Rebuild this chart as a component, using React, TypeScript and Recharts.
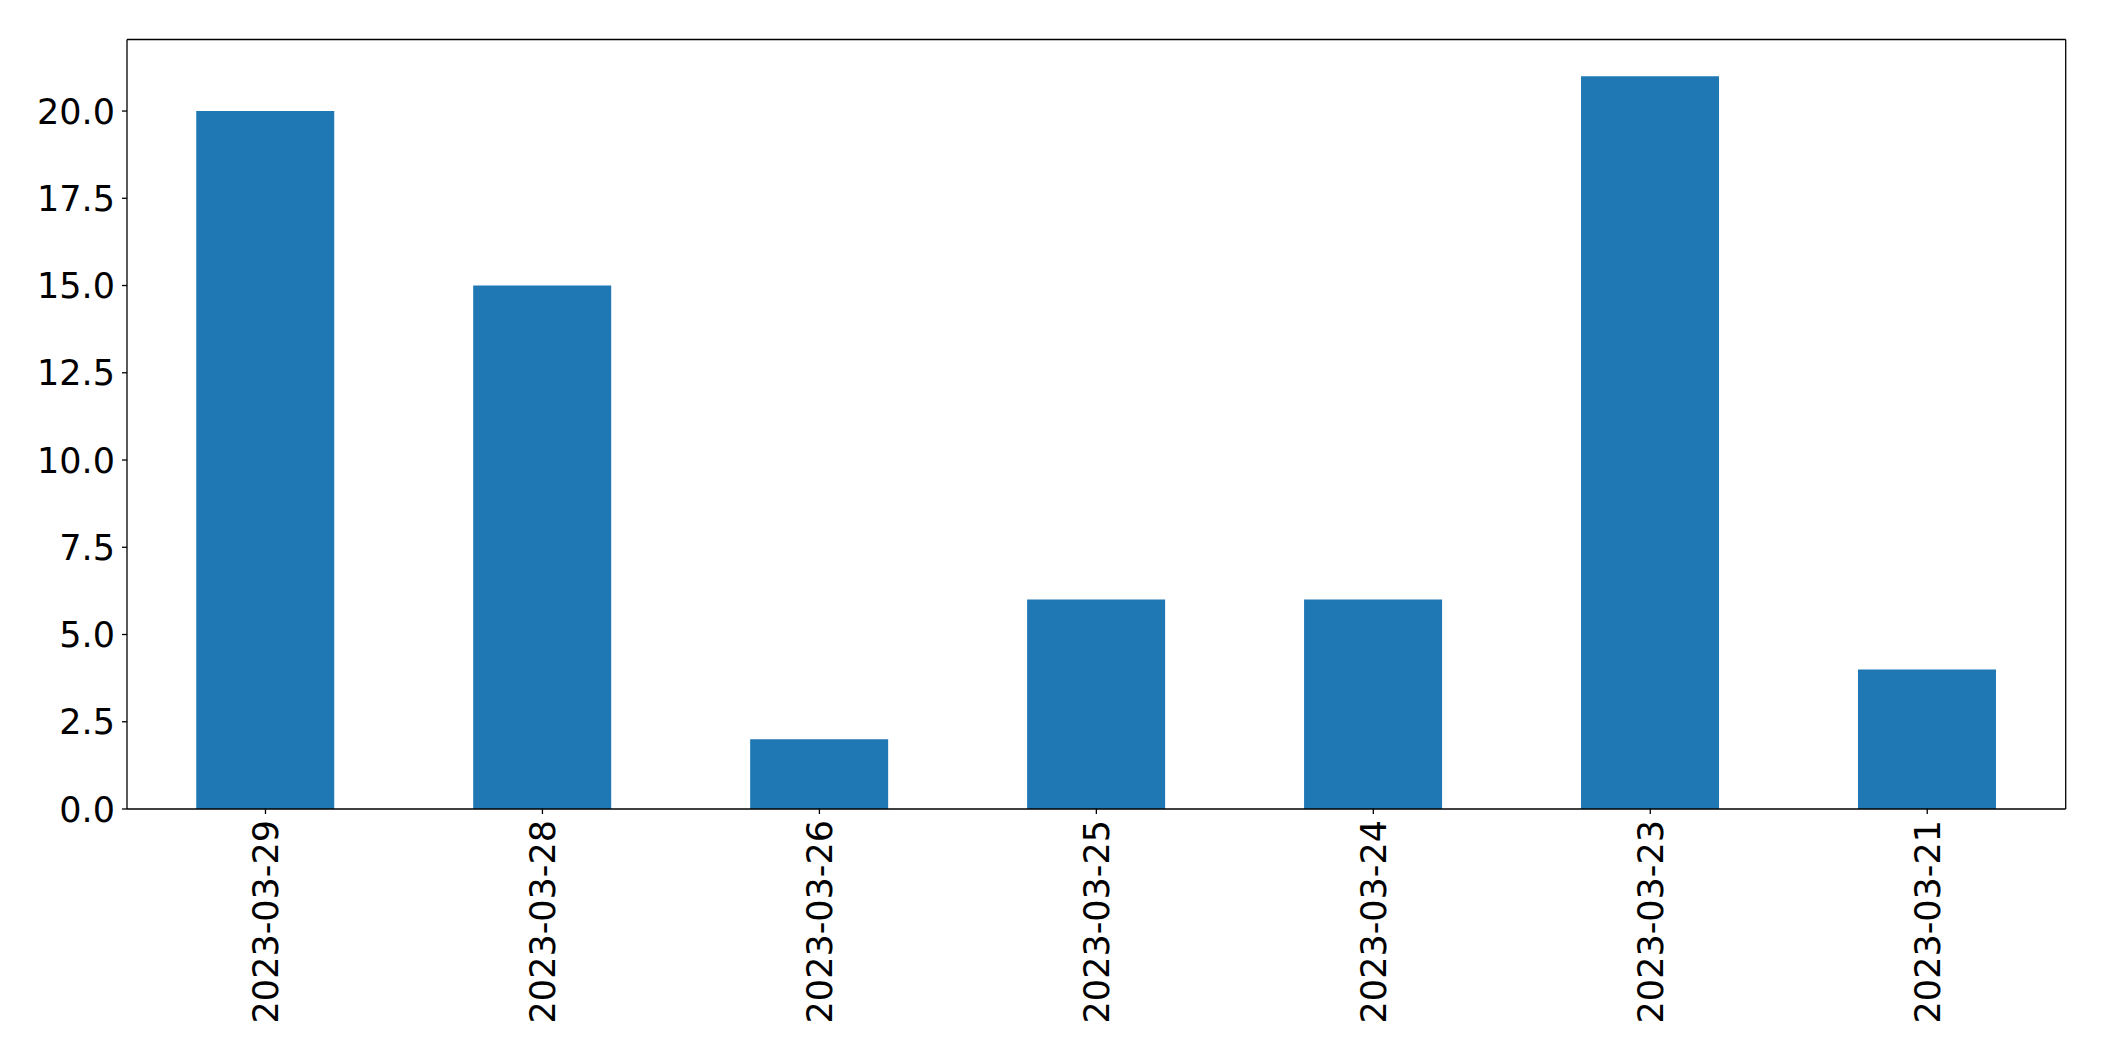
import React from 'react';
import { BarChart, Bar, XAxis, YAxis } from 'recharts';

const dates = ['2023-03-29', '2023-03-28', '2023-03-26', '2023-03-25', '2023-03-24', '2023-03-23', '2023-03-21'];
const counts = [20, 15, 2, 6, 6, 21, 4];
const yTicks = [0, 2.5, 5, 7.5, 10, 12.5, 15, 17.5, 20];

const data = dates.map((d, i) => ({ date: d, count: counts[i] }));

const FONT = '"DejaVu Sans", sans-serif';
const FS = 35;
const LW = 1.3;

const XTick = (props: any) => {
    const { x, y, payload } = props;
    return (
        <g transform={`translate(${x},${y})`}>
            <text
                transform="rotate(-90)"
                textAnchor="end"
                dy="0.36em"
                fill="#000"
                fontFamily={FONT}
                fontSize={FS}
            >
                {payload.value}
            </text>
        </g>
    );
};

const YTick = (props: any) => {
    const { x, y, payload } = props;
    return (
        <text
            x={x}
            y={y}
            textAnchor="end"
            dy="0.36em"
            fill="#000"
            fontFamily={FONT}
            fontSize={FS}
        >
            {Number(payload.value).toFixed(1)}
        </text>
    );
};

export default function App() {
    return (
        <div style={{ position: 'absolute', left: 0, top: 0, background: '#fff' }}>
            <BarChart
                width={2104}
                height={1061}
                data={data}
                margin={{ top: 38.5, right: 37.3, bottom: 0, left: 0 }}
                barCategoryGap="25%"
            >
                <XAxis
                    dataKey="date"
                    height={252}
                    tick={<XTick />}
                    tickSize={5}
                    tickMargin={6}
                    interval={0}
                    axisLine={{ stroke: '#000', strokeWidth: LW }}
                    tickLine={{ stroke: '#000', strokeWidth: LW }}
                />
                <XAxis
                    xAxisId="top"
                    dataKey="date"
                    orientation="top"
                    height={1}
                    tick={false}
                    tickLine={false}
                    axisLine={{ stroke: '#000', strokeWidth: LW }}
                />
                <YAxis
                    width={127}
                    domain={[0, 22.05]}
                    ticks={yTicks}
                    tick={<YTick />}
                    tickSize={5}
                    tickMargin={7}
                    interval={0}
                    axisLine={{ stroke: '#000', strokeWidth: LW }}
                    tickLine={{ stroke: '#000', strokeWidth: LW }}
                />
                <YAxis
                    yAxisId="right"
                    orientation="right"
                    width={1}
                    domain={[0, 22.05]}
                    tick={false}
                    tickLine={false}
                    axisLine={{ stroke: '#000', strokeWidth: LW }}
                />
                <Bar dataKey="count" fill="#1f77b4" isAnimationActive={false} />
            </BarChart>
        </div>
    );
}
